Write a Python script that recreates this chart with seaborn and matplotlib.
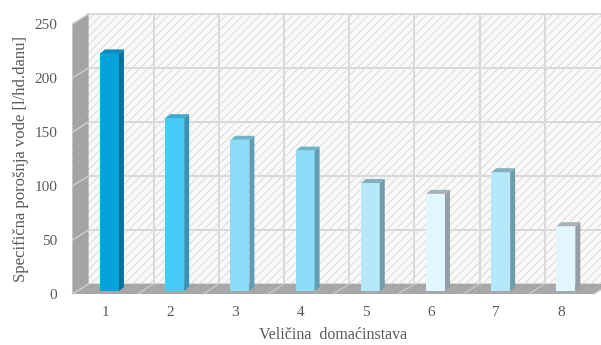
import matplotlib
matplotlib.use("Agg")
import matplotlib.pyplot as plt
from matplotlib.patches import Polygon
from matplotlib.transforms import Affine2D
import seaborn as sns
import pandas as pd

# Household size vs. specific water consumption
categories = ["1", "2", "3", "4", "5", "6", "7", "8"]
values = [220, 160, 140, 130, 100, 90, 110, 60]
front_colors = ["#05A2DE", "#45CBF5", "#8DDCF7", "#8DDCF7",
                "#B5E9FA", "#E2F6FD", "#B5E9FA", "#E2F6FD"]
side_colors = ["#06739B", "#3593B5", "#5E9DB5", "#5E9DB5",
               "#6F9CAB", "#939FA4", "#6F9CAB", "#939FA4"]
top_colors = ["#0A8CBD", "#3DA8CC", "#6DB3CB", "#6DB3CB",
              "#86AFBD", "#A8B2B6", "#86AFBD", "#A8B2B6"]
y_ticks = [0, 50, 100, 150, 200, 250]
x_title = "Veličina  domaćinstava"
y_title = "Specifična porošnja vode [l/hd.danu]"

df = pd.DataFrame({"size": categories, "value": values})

sns.set_theme(style="white")
plt.rcParams["font.family"] = ["Liberation Serif", "DejaVu Serif"]
plt.rcParams["hatch.linewidth"] = 0.6

W, H = 601, 345
fig = plt.figure(figsize=(W / 100, H / 100), dpi=100)
ax = fig.add_axes([72.4 / W, (H - 294) / H, (594 - 72.4) / W, 270 / H])
ax.set_facecolor("none")

PX_X = 65.2          # pixels per category
PX_Y = 270 / 250     # pixels per value unit
DX, DY = 16 / PX_X, 10 / PX_Y        # wall depth
BX, BY = 4.5 / PX_X, 3 / PX_Y        # bar front offset behind front plane
bx, by = 5 / PX_X, 4 / PX_Y          # bar depth
x0, x1 = -0.5, 7.5
ymax = 250

grid_c = "#D9D9D9"
back = [(x0 + DX, DY), (x1 + DX, DY), (x1 + DX, ymax + DY), (x0 + DX, ymax + DY)]
left = [(x0, 0), (x0, ymax), (x0 + DX, ymax + DY), (x0 + DX, DY)]
floor = [(x0, 0), (x1, 0), (x1 + DX, DY), (x0 + DX, DY)]

# back wall
ax.add_patch(Polygon(back, closed=True, facecolor="#F9F9F9", edgecolor="none",
                     zorder=0, clip_on=False))
ax.add_patch(Polygon(back, closed=True, fill=False, edgecolor="#D6D6D6", linewidth=0,
                     hatch="////", zorder=0.2, clip_on=False))
for t in y_ticks:
    ax.plot([x0 + DX, x1 + DX], [t + DY, t + DY], color=grid_c, lw=1.4, zorder=0.5, clip_on=False)
for k in range(9):
    xv = x0 + k + DX
    ax.plot([xv, xv], [DY, ymax + DY], color=grid_c, lw=1.4, zorder=0.5, clip_on=False)

# left side wall
ax.add_patch(Polygon(left, closed=True, facecolor="#A3A3A3", edgecolor="none",
                     zorder=1, clip_on=False))
ax.add_patch(Polygon(left, closed=True, fill=False, edgecolor="#ABABAB", linewidth=0,
                     hatch="////", zorder=1.1, clip_on=False))
for t in y_ticks:
    ax.plot([x0, x0 + DX], [t, t + DY], color="#CFCFCF", lw=1.0, zorder=1.2, clip_on=False)

# floor
ax.add_patch(Polygon(floor, closed=True, facecolor="#A6A6A6", edgecolor="none",
                     zorder=1, clip_on=False))
ax.add_patch(Polygon(floor, closed=True, fill=False, edgecolor="#B0B0B0", linewidth=0,
                     hatch="////", zorder=1.1, clip_on=False))
for k in range(9):
    ax.plot([x0 + k, x0 + k + DX], [0, DY], color="#C8C8C8", lw=1.0, zorder=1.2, clip_on=False)

# bars: front faces through seaborn, then side and top faces
sns.barplot(data=df, x="size", y="value", hue="size", palette=front_colors,
            width=0.29, legend=False, ax=ax, saturation=1, linewidth=0, zorder=3)
shift = Affine2D().translate(BX, BY) + ax.transData
for i, p in enumerate(ax.patches[-len(values):]):
    p.set_transform(shift)
    p.set_clip_on(False)
    x, w, h = p.get_x(), p.get_width(), p.get_height()
    ax.add_patch(Polygon([(x + w, 0), (x + w, h), (x + w + bx, h + by), (x + w + bx, by)],
                         closed=True, facecolor=side_colors[i], edgecolor="none",
                         transform=shift, zorder=3, clip_on=False))
    ax.add_patch(Polygon([(x, h), (x + w, h), (x + w + bx, h + by), (x + bx, h + by)],
                         closed=True, facecolor=top_colors[i], edgecolor="none",
                         transform=shift, zorder=3, clip_on=False))

ax.set_xlim(x0, x1)
ax.set_ylim(0, ymax)
ax.set_yticks(y_ticks)
ax.set_yticklabels([str(t) for t in y_ticks])
for s in ax.spines.values():
    s.set_visible(False)
ax.tick_params(axis="both", length=0, labelsize=11, labelcolor="#595959")
ax.tick_params(axis="y", pad=11)
ax.tick_params(axis="x", pad=9)
ax.set_xlabel(x_title, fontsize=11.5, color="#595959", labelpad=5.5)
ax.set_ylabel(y_title, fontsize=12, color="#595959", labelpad=4)

fig.savefig("out.png", dpi=100)
